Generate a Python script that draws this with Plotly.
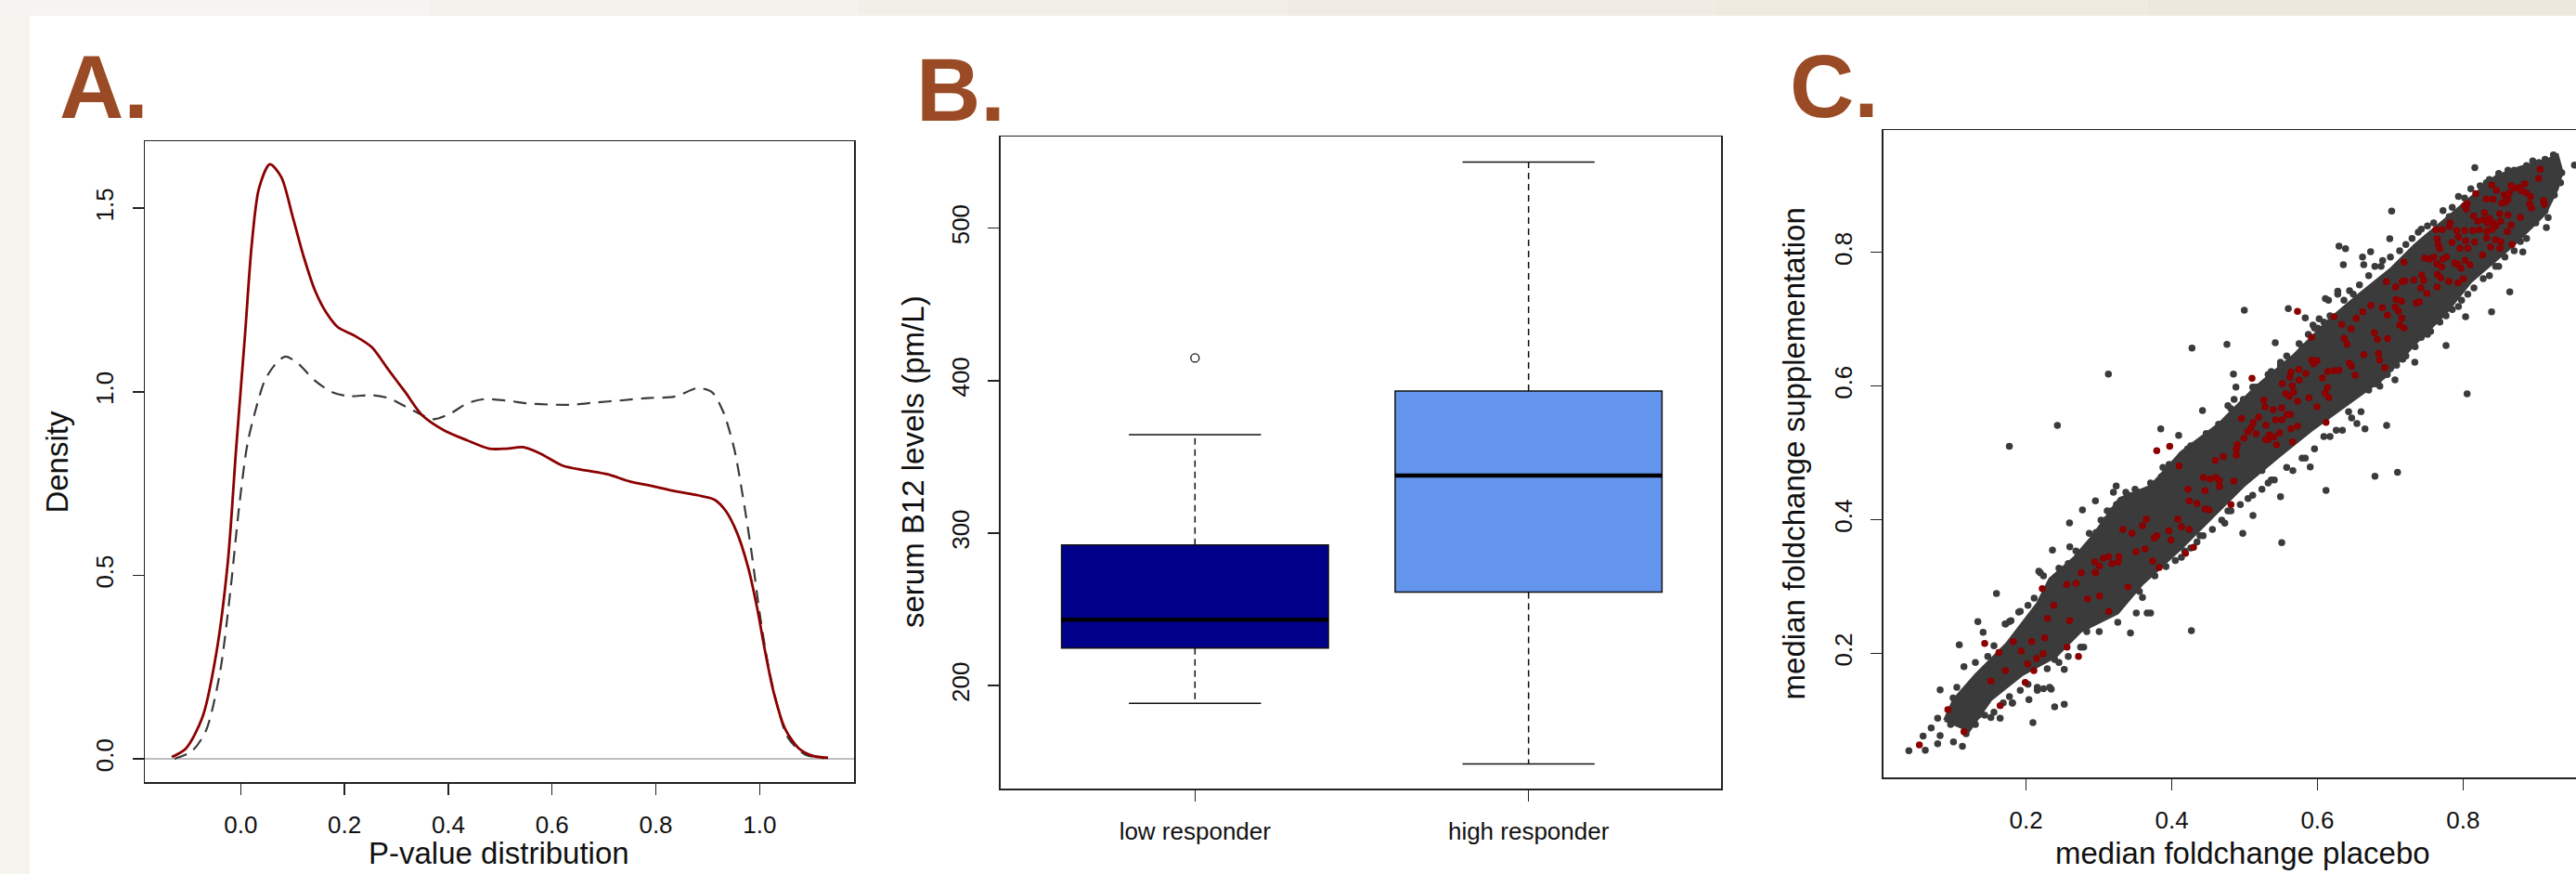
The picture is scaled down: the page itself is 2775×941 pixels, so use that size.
import plotly.graph_objects as go

W, H = 2775, 941
FONT = "Liberation Sans, Arial, sans-serif"

# ---------------- Panel A: density curves ----------------
pa_red_x = [-0.133, -0.106, -0.074, -0.047, -0.025, -0.009, 0.008, 0.021, 0.035, 0.056, 0.078, 0.100,
            0.121, 0.143, 0.165, 0.187, 0.219, 0.252, 0.284, 0.317, 0.349, 0.393, 0.436, 0.479, 0.512,
            0.544, 0.577, 0.620, 0.664, 0.707, 0.751, 0.794, 0.837, 0.881, 0.913, 0.935, 0.957, 0.978,
            0.995, 1.011, 1.027, 1.049, 1.076, 1.103, 1.132]
pa_red_y = [0.005, 0.028, 0.113, 0.290, 0.536, 0.845, 1.153, 1.400, 1.554, 1.620, 1.585, 1.477,
            1.369, 1.276, 1.215, 1.176, 1.153, 1.122, 1.061, 0.999, 0.937, 0.894, 0.868, 0.845, 0.845,
            0.849, 0.832, 0.799, 0.786, 0.775, 0.755, 0.743, 0.729, 0.718, 0.706, 0.675, 0.614, 0.521,
            0.413, 0.290, 0.182, 0.082, 0.028, 0.008, 0.003]
pa_dash_x = [-0.128, -0.095, -0.068, -0.041, -0.020, -0.003, 0.013, 0.029, 0.046, 0.067, 0.086, 0.111,
             0.143, 0.176, 0.208, 0.252, 0.284, 0.317, 0.349, 0.371, 0.403, 0.436, 0.469, 0.512, 0.555,
             0.599, 0.642, 0.685, 0.729, 0.783, 0.837, 0.881, 0.908, 0.930, 0.951, 0.967, 0.984, 1.000,
             1.016, 1.033, 1.054, 1.087, 1.125]
pa_dash_y = [0.000, 0.020, 0.074, 0.228, 0.459, 0.690, 0.860, 0.953, 1.030, 1.076, 1.096, 1.076,
             1.030, 0.999, 0.988, 0.991, 0.983, 0.960, 0.937, 0.925, 0.940, 0.968, 0.980, 0.976, 0.968,
             0.965, 0.965, 0.971, 0.976, 0.983, 0.987, 1.010, 0.999, 0.945, 0.845, 0.721, 0.567, 0.398,
             0.259, 0.151, 0.059, 0.012, 0.002]
pa_xticks = [0.0, 0.2, 0.4, 0.6, 0.8, 1.0]
pa_xticklabels = ["0.0", "0.2", "0.4", "0.6", "0.8", "1.0"]
pa_yticks = [0.0, 0.5, 1.0, 1.5]
pa_yticklabels = ["0.0", "0.5", "1.0", "1.5"]

# ---------------- Panel B: boxplots ----------------
pb_groups = ["low responder", "high responder"]
pb_pos = [1, 2]
pb_q1 = [224.7, 261.3]
pb_median = [243.2, 337.7]
pb_q3 = [292.3, 393.1]
pb_whisk_lo = [188.5, 148.7]
pb_whisk_hi = [364.6, 543.3]
pb_outlier_pos = [1]
pb_outlier_val = [414.8]
pb_colors = ["#00008B", "#6495ED"]
pb_yticks = [200, 300, 400, 500]

# ---------------- Panel C: scatter ----------------
# outline of the solid, fully overplotted core of the cloud
pc_band_upper = [(0.088, 0.100), (0.1007, 0.1306), (0.1304, 0.1676), (0.1729, 0.2140), (0.2154, 0.2742),
                 (0.2324, 0.3113), (0.2664, 0.3437), (0.2919, 0.3761), (0.3283, 0.4317), (0.3709, 0.4503),
                 (0.4134, 0.5012), (0.4643, 0.5429), (0.5153, 0.5985), (0.5663, 0.6450), (0.6173, 0.7006),
                 (0.6577, 0.7375), (0.7001, 0.7747), (0.7342, 0.8118), (0.7851, 0.8580), (0.8445, 0.9137),
                 (0.8786, 0.9276), (0.9126, 0.9369), (0.9295, 0.9461), (0.9359, 0.9206)]
pc_band_lower = [(0.9295, 0.8952), (0.9126, 0.8580), (0.8700, 0.8118), (0.8106, 0.7562), (0.7766, 0.7097),
                 (0.7342, 0.6634), (0.6916, 0.6124), (0.6386, 0.5707), (0.5918, 0.5337), (0.5493, 0.4966),
                 (0.4984, 0.4503), (0.4558, 0.4039), (0.4134, 0.3576), (0.3582, 0.3020), (0.3258, 0.2603),
                 (0.2748, 0.2325), (0.2409, 0.1954), (0.1941, 0.1676), (0.1517, 0.1306), (0.1219, 0.0842)]
pc_grey = [
    (0.0391, 0.0541), (0.0616, 0.0550), (0.0786, 0.0648), (0.1003, 0.0675), (0.1126, 0.0610), (0.0586, 0.0763),
    (0.0697, 0.0884), (0.0820, 0.0768), (0.0820, 0.1454), (0.0998, 0.1333), (0.1083, 0.2126), (0.1338, 0.2473),
    (0.1593, 0.2895), (0.1410, 0.2316), (0.1147, 0.1801), (0.2094, 0.0963), (0.1810, 0.1255), (0.1517, 0.1041),
    (0.2392, 0.1199), (0.2524, 0.1236), (0.2362, 0.3544), (0.2596, 0.3951), (0.2774, 0.4146), (0.3513, 0.2603),
    (0.3709, 0.2603), (0.3433, 0.2306), (0.2524, 0.1760), (0.2290, 0.1769), (0.2239, 0.1472), (0.2345, 0.1463),
    (0.177, 0.510), (0.243, 0.541), (0.313, 0.618), (0.560, 0.716), (0.679, 0.465), (0.710, 0.471),
    (0.427, 0.234), (0.695, 0.541),
    (0.4278, 0.6569), (0.4758, 0.6625), (0.4996, 0.7134), (0.5421, 0.6648), (0.3849, 0.5360), (0.4095, 0.5262),
    (0.4422, 0.5633), (0.2952, 0.4280), (0.3237, 0.4503), (0.6118, 0.4438), (0.5493, 0.4345), (0.5901, 0.4790),
    (0.5115, 0.4062), (0.4975, 0.3794), (0.5510, 0.3655), (0.6542, 0.5439), (0.6653, 0.5360), (0.4881, 0.5985),
    (0.4847, 0.6180),
    (0.8161, 0.9267), (0.9529, 0.9308), (0.9240, 0.9461), (0.7019, 0.8618), (0.6993, 0.8206), (0.6296, 0.8094),
    (0.6386, 0.8057), (0.6619, 0.7932), (0.6730, 0.8011), (0.6356, 0.7816), (0.6636, 0.7816), (0.6895, 0.7877),
    (0.8641, 0.7409), (0.8391, 0.7112), (0.8034, 0.7038), (0.7766, 0.6607), (0.7337, 0.6357), (0.8055, 0.5884),
    (0.8820, 0.8006), (0.9143, 0.8372), (0.9168, 0.8521), (0.9355, 0.9193), (0.6279, 0.7418), (0.6441, 0.7427),
    (0.6109, 0.7307), (0.5833, 0.7019), (0.7065, 0.6093), (0.6857, 0.6000),
    (0.2961, 0.3808), (0.2868, 0.3794), (0.2600, 0.3594), (0.2473, 0.3261), (0.2196, 0.3205), (0.2111, 0.2825),
    (0.2026, 0.2719), (0.1899, 0.2617), (0.1771, 0.2473), (0.1712, 0.2441), (0.1559, 0.2112), (0.1474, 0.1954),
    (0.1304, 0.1862), (0.1262, 0.1537), (0.1049, 0.1491), (0.1092, 0.1259), (0.1007, 0.1028), (0.0964, 0.0935),
    (0.0786, 0.1028), (0.3662, 0.2603), (0.3259, 0.2464), (0.3004, 0.2325), (0.2834, 0.2325), (0.2749, 0.2093),
    (0.2579, 0.1954), (0.2451, 0.1862), (0.2324, 0.1491), (0.2154, 0.1445), (0.2039, 0.1306), (0.1814, 0.1259),
    (0.1644, 0.1028), (0.1432, 0.1074), (0.1304, 0.0935), (0.1177, 0.0796),
    (0.5238, 0.4734), (0.5366, 0.4595), (0.5111, 0.4364), (0.4771, 0.4132), (0.4728, 0.3947), (0.4558, 0.3854),
    (0.4388, 0.3761), (0.4261, 0.3576), (0.4133, 0.3437), (0.5833, 0.4920), (0.5663, 0.4734), (0.6258, 0.5337),
    (0.6088, 0.5244), (0.6428, 0.5615), (0.3411, 0.4364), (0.3241, 0.4225), (0.3539, 0.4410), (0.3794, 0.4549),
    (0.3879, 0.4781), (0.4218, 0.5059), (0.4261, 0.5105), (0.4771, 0.5707), (0.4856, 0.5800), (0.5111, 0.5985),
    (0.5366, 0.6217), (0.5493, 0.6310), (0.5790, 0.6588), (0.5960, 0.6866), (0.6173, 0.7051), (0.6343, 0.7097),
    (0.6152, 0.7284), (0.6279, 0.7376), (0.6577, 0.7515), (0.6789, 0.7793), (0.7002, 0.7932), (0.7214, 0.8118),
    (0.7384, 0.8303), (0.7511, 0.8396), (0.7724, 0.8627), (0.7936, 0.8836), (0.8106, 0.8952), (0.8319, 0.9044),
    (0.8489, 0.9183), (0.8616, 0.9230), (0.8956, 0.9369), (0.9126, 0.9392), (0.9253, 0.9438),
    (0.9338, 0.9044), (0.9253, 0.8859), (0.9126, 0.8627), (0.8998, 0.8442), (0.8871, 0.8210), (0.8701, 0.8025),
    (0.8489, 0.7793), (0.8361, 0.7654), (0.8064, 0.7376), (0.7936, 0.7191), (0.7766, 0.7052), (0.7554, 0.6820),
    (0.7426, 0.6728), (0.7214, 0.6450), (0.7087, 0.6311), (0.6959, 0.6172), (0.6789, 0.6032),
    (0.1721, 0.2441), (0.1793, 0.2487), (0.1920, 0.2626), (0.2175, 0.3229), (0.2239, 0.3159), (0.2451, 0.3275),
    (0.2579, 0.3344), (0.2685, 0.3530), (0.2791, 0.3530), (0.3089, 0.3993), (0.3174, 0.4132), (0.3259, 0.4225),
    (0.3598, 0.2835), (0.3768, 0.3159), (0.3556, 0.2927), (0.2791, 0.2093), (0.2392, 0.1908), (0.2154, 0.1491),
    (0.2026, 0.1537), (0.1920, 0.1445), (0.1771, 0.1352), (0.1686, 0.1259), (0.1559, 0.1120), (0.1347, 0.1074),
    (0.1262, 0.0958), (0.1177, 0.0842),
    (0.5408, 0.4595), (0.5323, 0.4549), (0.5238, 0.4456), (0.5047, 0.4317), (0.4941, 0.4225), (0.4813, 0.4132),
    (0.4686, 0.3993), (0.4431, 0.3761), (0.4346, 0.3668), (0.4176, 0.3530), (0.4049, 0.3390), (0.3921, 0.3298),
    (0.5790, 0.4920), (0.5578, 0.4781), (0.5960, 0.5059), (0.6173, 0.5244), (0.6343, 0.5337), (0.6470, 0.5522),
    (0.6598, 0.5615), (0.3029, 0.3993), (0.3114, 0.4132), (0.3199, 0.4410), (0.3369, 0.4410), (0.3496, 0.4456),
    (0.3709, 0.4549), (0.3857, 0.4642), (0.3964, 0.4827), (0.4133, 0.4966), (0.4303, 0.5105), (0.4473, 0.5290),
    (0.4643, 0.5429), (0.4813, 0.5661), (0.4983, 0.5800), (0.5153, 0.5985), (0.5323, 0.6171), (0.5493, 0.6356),
    (0.5578, 0.6449), (0.5748, 0.6634), (0.5875, 0.6773), (0.6003, 0.6866), (0.6088, 0.6958),
    (0.5939, 0.6913), (0.6024, 0.7006), (0.6364, 0.7284), (0.6492, 0.7376), (0.6704, 0.7654), (0.6874, 0.7793),
    (0.7129, 0.8025), (0.7299, 0.8210), (0.7426, 0.8349), (0.7596, 0.8442), (0.7809, 0.8535), (0.7851, 0.8674),
    (0.8021, 0.8813), (0.8234, 0.8998), (0.8361, 0.9091), (0.8701, 0.9230), (0.8871, 0.9299), (0.9041, 0.9346),
    (0.9168, 0.8766), (0.9041, 0.8581), (0.8913, 0.8396), (0.8786, 0.8164), (0.8574, 0.7932), (0.8446, 0.7793),
    (0.8276, 0.7608), (0.8149, 0.7469), (0.7979, 0.7284), (0.7851, 0.7145), (0.7681, 0.6959), (0.7511, 0.6774),
    (0.7341, 0.6589), (0.7171, 0.6403), (0.7002, 0.6264), (0.6832, 0.6079), (0.6704, 0.5940)]
pc_red = [
    (0.0535, 0.0629), (0.0926, 0.1157), (0.1147, 0.0828), (0.1644, 0.1218), (0.1517, 0.1584), (0.1716, 0.1741),
    (0.1988, 0.1565), (0.2107, 0.1741), (0.2022, 0.1843), (0.2145, 0.1922), (0.2235, 0.1996), (0.1933, 0.2033),
    (0.1627, 0.2014), (0.1432, 0.2149), (0.1823, 0.2177), (0.2078, 0.2177), (0.2256, 0.2232), (0.2562, 0.2093),
    (0.2719, 0.1954), (0.2596, 0.2487), (0.2294, 0.2524), (0.2379, 0.2719), (0.2842, 0.2816), (0.3008, 0.2858),
    (0.3135, 0.2626), (0.3399, 0.2992), (0.2222, 0.2969), (0.2558, 0.3029), (0.2685, 0.3048), (0.2757, 0.3205),
    (0.2953, 0.3205),
    (0.2952, 0.3210), (0.3008, 0.3307), (0.2944, 0.3367), (0.3059, 0.3423), (0.3135, 0.3446), (0.3178, 0.3344),
    (0.3275, 0.3446), (0.3263, 0.3363), (0.3828, 0.3284), (0.3738, 0.3381), (0.3509, 0.3520), (0.3632, 0.3562),
    (0.4189, 0.3497), (0.4299, 0.3585), (0.3989, 0.3696), (0.3760, 0.3724), (0.3794, 0.3761), (0.3454, 0.3794),
    (0.3331, 0.3854), (0.3598, 0.3910), (0.3649, 0.4007), (0.3959, 0.3835), (0.4133, 0.3891), (0.4240, 0.3854),
    (0.4083, 0.4007), (0.4346, 0.4243), (0.4240, 0.4280), (0.4456, 0.4160), (0.4512, 0.4146), (0.4813, 0.4225),
    (0.4223, 0.4456), (0.4456, 0.4433), (0.4435, 0.4632), (0.4524, 0.4609), (0.4601, 0.4632), (0.4652, 0.4586),
    (0.4656, 0.4498), (0.4852, 0.4577), (0.4100, 0.4808), (0.4597, 0.4887), (0.4707, 0.4947), (0.4886, 0.4966),
    (0.4886, 0.5054), (0.4903, 0.5123), (0.4992, 0.5221), (0.5043, 0.5318), (0.5089, 0.5378), (0.5119, 0.5452),
    (0.5157, 0.5286), (0.5191, 0.5536), (0.5293, 0.5415), (0.4958, 0.5517), (0.5264, 0.5791), (0.5281, 0.5689),
    (0.5391, 0.5647), (0.5425, 0.5494), (0.5514, 0.5494), (0.5510, 0.5670), (0.5582, 0.5573), (0.5629, 0.5573),
    (0.5289, 0.5198), (0.5344, 0.5267), (0.5400, 0.5239), (0.5480, 0.5300), (0.5438, 0.5123), (0.5323, 0.5198),
    (0.5638, 0.5364), (0.5659, 0.5165), (0.5727, 0.5401), (0.5727, 0.5772), (0.5616, 0.5846), (0.5565, 0.5888),
    (0.5671, 0.5907), (0.5654, 0.6004), (0.5519, 0.6036), (0.5621, 0.6134), (0.5638, 0.6212), (0.5748, 0.6087),
    (0.5744, 0.6249), (0.5841, 0.6189), (0.5884, 0.5823), (0.5994, 0.5689), (0.6071, 0.6120), (0.6143, 0.6217),
    (0.6232, 0.6231), (0.6296, 0.6235), (0.6118, 0.5457), (0.6156, 0.5828), (0.6105, 0.5893), (0.6139, 0.5976),
    (0.5922, 0.6388), (0.5948, 0.6333), (0.5994, 0.6379), (0.5918, 0.6727), (0.5102, 0.6115), (0.3794, 0.5031),
    (0.3972, 0.5100), (0.6440, 0.6342), (0.6466, 0.6296), (0.6517, 0.6161), (0.6636, 0.6472), (0.5727, 0.7116),
    (0.6228, 0.7037), (0.6334, 0.6921), (0.6462, 0.6856), (0.6534, 0.7014), (0.6623, 0.7111), (0.6368, 0.6713),
    (0.6406, 0.6629),
    (0.6734, 0.7209), (0.6891, 0.7172), (0.6781, 0.6797), (0.6823, 0.6700), (0.6963, 0.6709), (0.6840, 0.6487),
    (0.6853, 0.6389), (0.6925, 0.6278),
    (0.6946, 0.7562), (0.7074, 0.7483), (0.7163, 0.7562), (0.7201, 0.7576), (0.7324, 0.7585), (0.7418, 0.7469),
    (0.7460, 0.7580), (0.7431, 0.7663), (0.7503, 0.7390), (0.7643, 0.7483), (0.7805, 0.7566), (0.7928, 0.7543),
    (0.8004, 0.7603), (0.7188, 0.7853), (0.7358, 0.7247), (0.7397, 0.7260), (0.7069, 0.7182), (0.7112, 0.7121),
    (0.6959, 0.7061), (0.7155, 0.7270), (0.7159, 0.7015), (0.7129, 0.6913), (0.7188, 0.6867), (0.7078, 0.7297),
    (0.7537, 0.7900), (0.7473, 0.7918), (0.7596, 0.7932), (0.7720, 0.7904), (0.7639, 0.7830), (0.7707, 0.7784),
    (0.7647, 0.7673), (0.7694, 0.7617), (0.7771, 0.7932), (0.7886, 0.7844), (0.7923, 0.7821), (0.7970, 0.7765),
    (0.8025, 0.7881), (0.8094, 0.7812), (0.7660, 0.8118), (0.7643, 0.8201), (0.7677, 0.8057), (0.7626, 0.8340),
    (0.7715, 0.8340), (0.7813, 0.8391), (0.7822, 0.8442), (0.7847, 0.8150), (0.7936, 0.8229), (0.7957, 0.8062),
    (0.8034, 0.8173), (0.8064, 0.8062), (0.8157, 0.8155), (0.7911, 0.8326), (0.8021, 0.8326), (0.8132, 0.8326),
    (0.8225, 0.8340), (0.8327, 0.8317), (0.8395, 0.8340), (0.8268, 0.7960), (0.8378, 0.8081), (0.8323, 0.8215),
    (0.8446, 0.8187), (0.8518, 0.8159), (0.8505, 0.8062), (0.8607, 0.8312), (0.8671, 0.8118), (0.8144, 0.8544),
    (0.8200, 0.8465), (0.8293, 0.8595), (0.8276, 0.8488), (0.8331, 0.8442), (0.8361, 0.8507), (0.8412, 0.8442),
    (0.8450, 0.8396), (0.8514, 0.8465), (0.8501, 0.8581), (0.8616, 0.8558), (0.8659, 0.8410), (0.8786, 0.8525),
    (0.8043, 0.8650), (0.8021, 0.8701), (0.8055, 0.8729), (0.8174, 0.8878), (0.8319, 0.8799), (0.8412, 0.8794),
    (0.8395, 0.9007), (0.8459, 0.8928), (0.8574, 0.8752), (0.8616, 0.8789), (0.8565, 0.8859), (0.8633, 0.8887),
    (0.8659, 0.8998), (0.8701, 0.8961), (0.8765, 0.8970), (0.8846, 0.9026), (0.8799, 0.8919), (0.8871, 0.8891),
    (0.8926, 0.8836), (0.8913, 0.8729), (0.8939, 0.8664), (0.9105, 0.8775), (0.9117, 0.8720), (0.9037, 0.9109),
    (0.9058, 0.9244), (0.8531, 0.8738)]
pc_xticks = [0.2, 0.4, 0.6, 0.8]
pc_yticks = [0.2, 0.4, 0.6, 0.8]

# ---------------- styling helpers ----------------
INK = "#222222"
GREY = "#3b3b3b"
DARKRED = "#8B0000"
LETTER = "#9A4B25"


def px_x(v):
    return v / W


def px_y(v):
    return 1 - v / H


def axis(domain, rng, tickvals, ticktext, anchor, mirror=True, tickangle=None, standoff=10):
    d = dict(domain=domain, range=rng, tickvals=tickvals, ticktext=ticktext, anchor=anchor,
             ticks="outside", ticklen=12, tickwidth=1.5, tickcolor=INK,
             showline=True, linecolor=INK, linewidth=1.5, mirror=mirror,
             showgrid=False, zeroline=False, fixedrange=True,
             tickfont=dict(family=FONT, size=26, color="#111111"),
             ticklabelstandoff=standoff)
    if tickangle is not None:
        d["tickangle"] = tickangle
    return d


fig = go.Figure()

# Panel A traces
fig.add_trace(go.Scatter(x=pa_dash_x, y=pa_dash_y, mode="lines", xaxis="x", yaxis="y",
                         line=dict(color="#3a3a3a", width=2.2, dash="14px,9px", shape="spline", smoothing=0.8),
                         hoverinfo="skip", showlegend=False))
fig.add_trace(go.Scatter(x=pa_red_x, y=pa_red_y, mode="lines", xaxis="x", yaxis="y",
                         line=dict(color=DARKRED, width=2.8, shape="spline", smoothing=0.8),
                         hoverinfo="skip", showlegend=False))

# Panel B traces
half_box = 0.4
half_cap = 0.198
for i in range(len(pb_groups)):
    p = pb_pos[i]
    fig.add_trace(go.Box(x=[p], q1=[pb_q1[i]], median=[pb_median[i]], q3=[pb_q3[i]],
                         lowerfence=[pb_q1[i]], upperfence=[pb_q3[i]], width=2 * half_box,
                         fillcolor=pb_colors[i], line=dict(color="#111111", width=1.5),
                         boxpoints=False, xaxis="x2", yaxis="y2", hoverinfo="skip", showlegend=False))
wx, wy, cx, cy, mx, my = [], [], [], [], [], []
for i in range(len(pb_groups)):
    p = pb_pos[i]
    wx += [p, p, None, p, p, None]
    wy += [pb_q3[i], pb_whisk_hi[i], None, pb_q1[i], pb_whisk_lo[i], None]
    cx += [p - half_cap, p + half_cap, None, p - half_cap, p + half_cap, None]
    cy += [pb_whisk_hi[i], pb_whisk_hi[i], None, pb_whisk_lo[i], pb_whisk_lo[i], None]
    mx += [p - half_box, p + half_box, None]
    my += [pb_median[i], pb_median[i], None]
fig.add_trace(go.Scatter(x=wx, y=wy, mode="lines", xaxis="x2", yaxis="y2",
                         line=dict(color="#111111", width=1.5, dash="7px,5px"), hoverinfo="skip", showlegend=False))
fig.add_trace(go.Scatter(x=cx, y=cy, mode="lines", xaxis="x2", yaxis="y2",
                         line=dict(color="#111111", width=1.5), hoverinfo="skip", showlegend=False))
fig.add_trace(go.Scatter(x=mx, y=my, mode="lines", xaxis="x2", yaxis="y2",
                         line=dict(color="#000000", width=4.5), hoverinfo="skip", showlegend=False))
fig.add_trace(go.Scatter(x=pb_outlier_pos, y=pb_outlier_val, mode="markers", xaxis="x2", yaxis="y2",
                         marker=dict(symbol="circle-open", size=9, color="#111111", line=dict(width=1.3)),
                         hoverinfo="skip", showlegend=False))

# Panel C traces
band = pc_band_upper + pc_band_lower + [pc_band_upper[0]]
fig.add_trace(go.Scatter(x=[b[0] for b in band], y=[b[1] for b in band], mode="lines", fill="toself",
                         fillcolor=GREY, line=dict(color=GREY, width=3), xaxis="x3", yaxis="y3",
                         hoverinfo="skip", showlegend=False))
fig.add_trace(go.Scatter(x=[g[0] for g in pc_grey], y=[g[1] for g in pc_grey], mode="markers",
                         marker=dict(size=7.5, color=GREY), xaxis="x3", yaxis="y3",
                         hoverinfo="skip", showlegend=False))
fig.add_trace(go.Scatter(x=[r[0] for r in pc_red], y=[r[1] for r in pc_red], mode="markers",
                         marker=dict(size=7.5, color=DARKRED), xaxis="x3", yaxis="y3",
                         hoverinfo="skip", showlegend=False))

# Axes
xa = axis([px_x(156.3), px_x(920.0)], [-0.1845, 1.182], pa_xticks, pa_xticklabels, "y")
ya = axis([px_y(842.4), px_y(152.3)], [-0.0643, 1.682], pa_yticks, pa_yticklabels, "x", tickangle=-90)
ya["zeroline"] = True
ya["zerolinecolor"] = "#BEBEBE"
ya["zerolinewidth"] = 1.5
xb = axis([px_x(1077.6), px_x(1854.0)], [0.4165, 2.577], pb_pos, pb_groups, "y2")
yb = axis([px_y(849.1), px_y(147.3)], [132.5, 559.8], pb_yticks, [str(v) for v in pb_yticks], "x2", tickangle=-90)
xc = axis([px_x(2028.5), 1.0], [0.0036, 0.955], pc_xticks, [f"{v:.1f}" for v in pc_xticks], "y3")
yc = axis([px_y(837.0), px_y(140.3)], [0.0143, 0.9827], pc_yticks, [f"{v:.1f}" for v in pc_yticks], "x3",
          mirror=False, tickangle=-90)

# Background: beige slide frame with white content area
shapes = []
strip_cols = ["#F6F4F0", "#F4F2EC", "#F2EFE8", "#F0ECE4", "#EEEAE0", "#ECE8DD"]
n = len(strip_cols)
for k, c in enumerate(strip_cols):
    shapes.append(dict(type="rect", xref="paper", yref="paper", x0=k / n, x1=(k + 1) / n,
                       y0=px_y(17), y1=1.0, fillcolor=c, line=dict(width=0), layer="below"))
shapes.append(dict(type="rect", xref="paper", yref="paper", x0=0, x1=px_x(32), y0=0, y1=px_y(17),
                   fillcolor="#F5F3EE", line=dict(width=0), layer="below"))

ann = []
for txt, lx, cyv in [("A.", 61.7, 93.0), ("B.", 984.8, 96.3), ("C.", 1926.4, 92.7)]:
    ann.append(dict(text=f"<b>{txt}</b>", x=px_x(lx), y=px_y(cyv), xref="paper", yref="paper",
                    xanchor="left", yanchor="middle", showarrow=False,
                    font=dict(family=FONT, size=96, color=LETTER)))
titles = [
    ("Density", 60.6, 497.0, -90),
    ("P-value distribution", 537.9, 918.0, 0),
    ("serum B12 levels (pm/L)", 983.0, 497.0, -90),
    ("median foldchange supplementation", 1932.5, 488.9, -90),
    ("median foldchange placebo", 2415.6, 918.0, 0),
]
for txt, cxp, cyp, ang in titles:
    ann.append(dict(text=txt, x=px_x(cxp), y=px_y(cyp), xref="paper", yref="paper",
                    xanchor="center", yanchor="middle", textangle=ang, showarrow=False,
                    font=dict(family=FONT, size=33, color="#111111")))

fig.update_layout(
    width=W, height=H, autosize=False,
    margin=dict(l=0, r=0, t=0, b=0),
    paper_bgcolor="white", plot_bgcolor="white",
    font=dict(family=FONT, color="#111111"),
    showlegend=False,
    xaxis=xa, yaxis=ya, xaxis2=xb, yaxis2=yb, xaxis3=xc, yaxis3=yc,
    shapes=shapes, annotations=ann,
)

fig.write_html("out.html",
               config={"displayModeBar": False, "staticPlot": True},
               post_script="document.body.style.margin='0px';document.body.style.padding='0px';"
                           "document.body.style.overflow='hidden';")
